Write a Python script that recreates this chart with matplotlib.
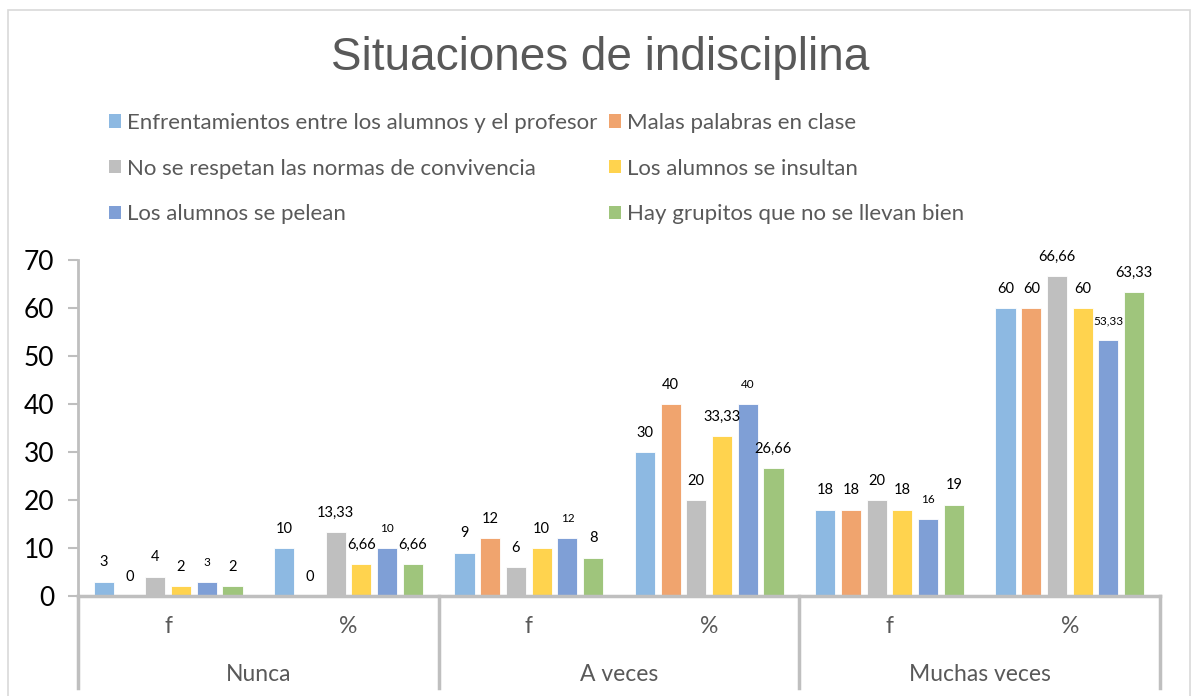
import numpy as np
import matplotlib.pyplot as plt
from matplotlib.patches import Rectangle, Patch
from matplotlib.transforms import blended_transform_factory

# ---- datos ----
series = [
    "Enfrentamientos entre los alumnos y el profesor",
    "Malas palabras en clase",
    "No se respetan las normas de convivencia",
    "Los alumnos se insultan",
    "Los alumnos se pelean",
    "Hay grupitos que no se llevan bien",
]
sub_labels = ["f", "%", "f", "%", "f", "%"]
groups = ["Nunca", "A veces", "Muchas veces"]
enfrentamientos = [3, 10, 9, 30, 18, 60]
malas_palabras = [0, 0, 12, 40, 18, 60]
normas = [4, 13.33, 6, 20, 20, 66.66]
insultan = [2, 6.66, 10, 33.33, 18, 60]
pelean = [3, 10, 12, 40, 16, 53.33]
grupitos = [2, 6.66, 8, 26.66, 19, 63.33]
values = [enfrentamientos, malas_palabras, normas, insultan, pelean, grupitos]
colors = ["#8DB9E2", "#F0A46E", "#BFBFBF", "#FFD34E", "#7F9FD6", "#9FC57C"]

plt.rcParams["font.family"] = ["Lato", "DejaVu Sans"]
grey_txt = "#595959"
axis_col = "#BFBFBF"

fig = plt.figure(figsize=(11.92, 6.96), dpi=100)
ax = fig.add_axes([78 / 1192, 100 / 696, 1082 / 1192, 336 / 696])

x = np.arange(len(sub_labels))
step = 0.1425
width = 0.112
for i, (vals, col) in enumerate(zip(values, colors)):
    pos = x + (i - 2.5) * step
    ax.bar(pos, vals, width=width, color=col, edgecolor="white", linewidth=0.6)
    fs = 8.5 if i == 4 else 10.5
    for px, v in zip(pos, vals):
        txt = f"{v:g}".replace(".", ",")
        ax.annotate(txt, (px, v), xytext=(0, 14), textcoords="offset points",
                    ha="center", va="center", fontsize=fs, color="#000000")

ax.set_xlim(-0.5, 5.5)
ax.set_ylim(0, 70)
ax.set_yticks(range(0, 71, 10))
ax.tick_params(axis="y", labelsize=19, length=7, width=1.5, color=axis_col,
               labelcolor="#000000", pad=10)
ax.set_xticks([])
for s in ["top", "right"]:
    ax.spines[s].set_visible(False)
ax.spines["left"].set_color(axis_col)
ax.spines["left"].set_linewidth(2)
ax.spines["bottom"].set_color(axis_col)
ax.spines["bottom"].set_linewidth(2.5)

# eje de categorias en dos niveles
tr = blended_transform_factory(ax.transData, ax.transAxes)
for xs in [-0.5, 1.5, 3.5, 5.5]:
    ax.plot([xs, xs], [0, -0.275], transform=tr, color=axis_col, lw=2.5,
            clip_on=False)
for xi, lab in zip(x, sub_labels):
    ax.text(xi, -0.092, lab, transform=tr, ha="center", va="center",
            fontsize=16.5, color=grey_txt)
for gi, g in enumerate(groups):
    ax.text(2 * gi + 0.5, -0.235, g, transform=tr, ha="center", va="center",
            fontsize=16.5, color=grey_txt)

# titulo
fig.text(600 / 1192, 1 - 58 / 696, "Situaciones de indisciplina",
         ha="center", va="center", fontsize=33, color=grey_txt,
         family="Liberation Sans")

# leyenda
handles = [Patch(facecolor=c, edgecolor="none") for c in colors]
order = [0, 2, 4, 1, 3, 5]
fig.legend([handles[k] for k in order], [series[k] for k in order],
           loc="upper left", bbox_to_anchor=(100 / 1192, 1 - 104 / 696),
           ncol=2, frameon=False, fontsize=16.0, labelcolor=grey_txt,
           handlelength=0.53, handleheight=0.53, handletextpad=0.3,
           columnspacing=0.5, labelspacing=1.16, borderaxespad=0)

# borde del grafico
fig.patches.append(Rectangle((8 / 1192, -0.02), 1182 / 1192, 1 - 10 / 696 + 0.02,
                             transform=fig.transFigure, fill=False,
                             edgecolor="#D9D9D9", lw=1.2))

fig.savefig("out.png", dpi=100)
